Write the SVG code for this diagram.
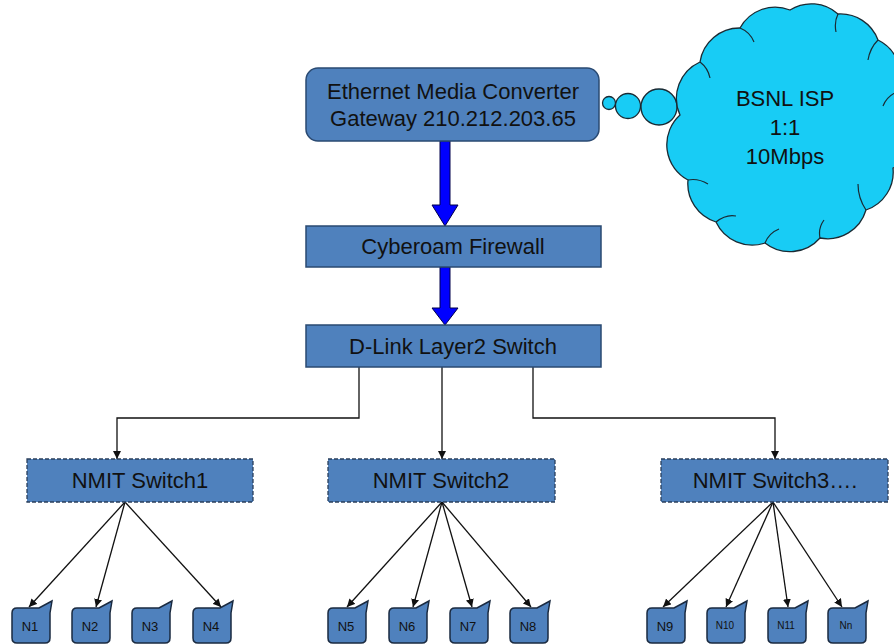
<svg xmlns="http://www.w3.org/2000/svg" xmlns:xlink="http://www.w3.org/1999/xlink" width="894" height="644" viewBox="0 0 894 644">
<style>
.box{fill:#4f81bd;stroke:#2a4a72;stroke-width:1.5}
.dbox{fill:#4f81bd;stroke:#2a3f5c;stroke-width:1.3;stroke-dasharray:4 2}
.t{font-family:"Liberation Sans",Arial,sans-serif;fill:#111;text-anchor:middle}
.big{font-size:22px}
.sm{font-size:13px}
.xs{font-size:10px}
.ln{fill:none;stroke:#111;stroke-width:1.3}
.node{fill:#4f81bd;stroke:#1a2a40;stroke-width:1.5}
.cloud{fill:#18ccf5;stroke:#1a2a33;stroke-width:1.3}
.barrow{fill:#0000ff;stroke:#00004a;stroke-width:1}
</style>
<defs>
<marker id="ah" viewBox="0 0 10 10" refX="10" refY="5" markerWidth="8" markerHeight="8" orient="auto" markerUnits="userSpaceOnUse"><path d="M0,0 L10,5 L0,10 Z" fill="#111"/></marker>
<path id="nb" d="M5,0 H27 L40,-7 L38,5 V30 Q38,35 33,35 H5 Q0,35 0,30 V5 Q0,0 5,0 Z"/>
</defs>
<rect width="894" height="644" fill="#fff"/>

<g id="connectors">
<path class="barrow" d="M440,141 V205 H432 L445,226 L458,205 H450 V141 Z"/>
<path class="barrow" d="M440,267 V308 H432 L445,325 L458,308 H450 V267 Z"/>
<path class="ln" marker-end="url(#ah)" d="M359,367 V418 H117 V459"/>
<path class="ln" marker-end="url(#ah)" d="M442,367 V459"/>
<path class="ln" marker-end="url(#ah)" d="M533,367 V418 H775 V459"/>
<path class="ln" marker-end="url(#ah)" d="M125,502 L29,607"/>
<path class="ln" marker-end="url(#ah)" d="M125,502 L96,607"/>
<path class="ln" marker-end="url(#ah)" d="M125,502 L221,607"/>
<path class="ln" marker-end="url(#ah)" d="M442,502 L347,607"/>
<path class="ln" marker-end="url(#ah)" d="M442,502 L413,607"/>
<path class="ln" marker-end="url(#ah)" d="M442,502 L472,607"/>
<path class="ln" marker-end="url(#ah)" d="M442,502 L531,607"/>
<path class="ln" marker-end="url(#ah)" d="M773,502 L663,607"/>
<path class="ln" marker-end="url(#ah)" d="M773,502 L726,607"/>
<path class="ln" marker-end="url(#ah)" d="M773,502 L788,607"/>
<path class="ln" marker-end="url(#ah)" d="M773,502 L842,607"/>
</g>

<g id="cloud">
<circle class="cloud" cx="609" cy="103" r="6.5"/>
<circle class="cloud" cx="628" cy="106" r="12.5"/>
<circle class="cloud" cx="659" cy="107" r="18"/>
<path class="cloud" d="M680,115 A40,40 0 0 1 700,62 A40,40 0 0 1 740,28 A40,40 0 0 1 790,10 A40,40 0 0 1 838,14 A40,40 0 0 1 878,40 A40,40 0 0 1 897,92 A45,45 0 0 1 893,168 A40,40 0 0 1 866,210 A40,40 0 0 1 820,238 A40,40 0 0 1 765,243 A40,40 0 0 1 716,222 A40,40 0 0 1 688,180 A40,40 0 0 1 680,115 Z"/>
<path fill="none" stroke="#1a2a33" stroke-width="1.2" d="M700,62 q8,6 10,16 M740,28 q10,4 14,14 M838,14 q-4,8 -2,18 M878,40 q-8,8 -10,20 M897,92 q-10,4 -14,14 M866,210 q-8,-12 -8,-26 M820,238 q-2,-10 4,-18 M765,243 q4,-10 14,-14 M716,222 q10,-8 20,-6 M688,180 q10,-2 20,4"/>
<text class="t big" x="785" y="106">BSNL ISP</text>
<text class="t big" x="785" y="135">1:1</text>
<text class="t big" x="785" y="164">10Mbps</text>
</g>

<g id="gateway">
<rect class="box" x="306" y="68" width="293" height="73" rx="12"/>
<text class="t big" x="453" y="99">Ethernet Media Converter</text>
<text class="t big" x="453" y="126">Gateway 210.212.203.65</text>
</g>
<g id="firewall">
<rect class="box" x="306" y="226" width="295" height="41"/>
<text class="t big" x="453" y="254">Cyberoam Firewall</text>
</g>
<g id="dlink">
<rect class="box" x="306" y="325" width="295" height="42"/>
<text class="t big" x="453" y="354">D-Link Layer2 Switch</text>
</g>

<g id="switch1">
<rect class="dbox" x="27" y="459" width="226" height="43"/>
<text class="t big" x="140" y="488">NMIT Switch1</text>
</g>
<g id="switch2">
<rect class="dbox" x="328" y="459" width="227" height="43"/>
<text class="t big" x="441" y="488">NMIT Switch2</text>
</g>
<g id="switch3">
<rect class="dbox" x="661" y="459" width="227" height="43"/>
<text class="t big" x="775" y="488">NMIT Switch3….</text>
</g>

<g id="n1"><use href="#nb" class="node" x="12" y="608"/><text class="t sm" x="30" y="631">N1</text></g>
<g id="n2"><use href="#nb" class="node" x="72" y="608"/><text class="t sm" x="90" y="631">N2</text></g>
<g id="n3"><use href="#nb" class="node" x="132" y="608"/><text class="t sm" x="150" y="631">N3</text></g>
<g id="n4"><use href="#nb" class="node" x="193" y="608"/><text class="t sm" x="211" y="631">N4</text></g>
<g id="n5"><use href="#nb" class="node" x="328" y="608"/><text class="t sm" x="346" y="631">N5</text></g>
<g id="n6"><use href="#nb" class="node" x="389" y="608"/><text class="t sm" x="407" y="631">N6</text></g>
<g id="n7"><use href="#nb" class="node" x="450" y="608"/><text class="t sm" x="468" y="631">N7</text></g>
<g id="n8"><use href="#nb" class="node" x="510" y="608"/><text class="t sm" x="528" y="631">N8</text></g>
<g id="n9"><use href="#nb" class="node" x="647" y="608"/><text class="t sm" x="665" y="631">N9</text></g>
<g id="n10"><use href="#nb" class="node" x="707" y="608"/><text class="t xs" x="725" y="629">N10</text></g>
<g id="n11"><use href="#nb" class="node" x="768" y="608"/><text class="t xs" x="786" y="629">N11</text></g>
<g id="nn"><use href="#nb" class="node" x="828" y="608"/><text class="t xs" x="846" y="629">Nn</text></g>
</svg>
